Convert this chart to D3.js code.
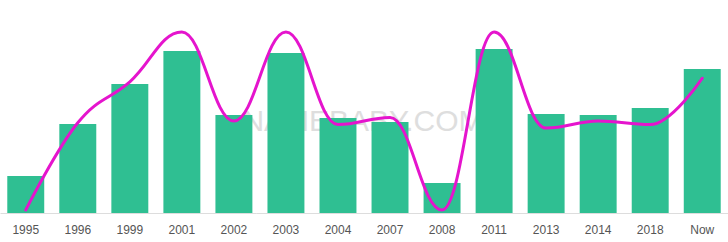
<!DOCTYPE html>
<html>
<head>
<meta charset="utf-8">
<script src="https://cdn.jsdelivr.net/npm/d3@7"></script>
<style>
  body { margin: 0; background: #fff; }
  svg { display: block; font-family: "Liberation Sans", Arial, sans-serif; }
</style>
</head>
<body>
<div id="chart"></div>
<script>
const width = 728;
const height = 242;
const margin = { top: 32, right: 0, bottom: 29, left: 0 };

// years shown on the x axis
const years = ["1995", "1996", "1999", "2001", "2002", "2003", "2004", "2007", "2008", "2011", "2013", "2014", "2018", "Now"];
// bar heights (counts)
const counts = [37, 89, 129, 162, 98, 160, 95, 91, 30, 164, 99, 98, 105, 144];
// smoothed trend line, 0-100 on its own scale
const trend = [0, 49, 72, 100, 50, 100, 48, 52, 0, 100, 46, 50, 48, 74];

const colors = {
  bar: "#2fbf92",
  line: "#e514cd",
  axis: "#dddddd",
  label: "#555555",
  watermark: "#dedede"
};

// spline like the one the original chart tool draws: smoothed, no overshoot at peaks
function SplineCurve(context) {
  this._context = context;
}
SplineCurve.prototype = {
  areaStart() {},
  areaEnd() {},
  lineStart() { this._pts = []; },
  point(px, py) { this._pts.push([px, py]); },
  lineEnd() {
    const pts = this._pts;
    const ctx = this._context;
    const s = 1.5, den = s + 1;
    const ctrl = pts.map((p, i) => {
      if (i === 0 || i === pts.length - 1) return null;
      const [lx, ly] = pts[i - 1], [nx, ny] = pts[i + 1], [px, py] = p;
      let lcx = (s * px + lx) / den, lcy = (s * py + ly) / den;
      let rcx = (s * px + nx) / den, rcy = (s * py + ny) / den;
      const corr = ((rcy - lcy) * (rcx - px)) / (rcx - lcx) + py - rcy;
      lcy += corr; rcy += corr;
      if (lcy > ly && lcy > py) { lcy = Math.max(ly, py); rcy = 2 * py - lcy; }
      else if (lcy < ly && lcy < py) { lcy = Math.min(ly, py); rcy = 2 * py - lcy; }
      if (rcy > ny && rcy > py) { rcy = Math.max(ny, py); lcy = 2 * py - rcy; }
      else if (rcy < ny && rcy < py) { rcy = Math.min(ny, py); lcy = 2 * py - rcy; }
      return { lcx, lcy, rcx, rcy };
    });
    pts.forEach((p, i) => {
      if (i === 0) { ctx.moveTo(p[0], p[1]); return; }
      const prev = pts[i - 1], pc = ctrl[i - 1], c = ctrl[i];
      ctx.bezierCurveTo(
        pc ? pc.rcx : prev[0], pc ? pc.rcy : prev[1],
        c ? c.lcx : p[0], c ? c.lcy : p[1],
        p[0], p[1]
      );
    });
  }
};

const svg = d3.select("#chart")
  .append("svg")
  .attr("width", width)
  .attr("height", height);

const baseY = height - margin.bottom;

const x = d3.scaleBand()
  .domain(years)
  .range([margin.left, width - margin.right])
  .paddingInner(0.29)
  .paddingOuter(0.14);

const y = d3.scaleLinear()
  .domain([0, 180])
  .range([baseY, baseY - 180]);

const yTrend = d3.scaleLinear()
  .domain([0, 100])
  .range([baseY - 3, margin.top]);

svg.append("text")
  .attr("x", 363)
  .attr("y", 131)
  .attr("text-anchor", "middle")
  .attr("font-size", 30)
  .attr("fill", colors.watermark)
  .text("NAMEBABY.COM");

svg.selectAll(".bar")
  .data(years)
  .join("rect")
  .attr("class", "bar")
  .attr("x", d => x(d))
  .attr("width", x.bandwidth())
  .attr("y", (d, i) => y(counts[i]))
  .attr("height", (d, i) => baseY - y(counts[i]))
  .attr("fill", colors.bar);

const xAxis = svg.append("g")
  .attr("transform", `translate(0, ${baseY})`)
  .call(d3.axisBottom(x).tickSize(0).tickPadding(12));

xAxis.select(".domain").attr("stroke", colors.axis);
xAxis.selectAll("text")
  .attr("font-size", 12)
  .attr("font-family", "\"Liberation Sans\", Arial, sans-serif")
  .attr("fill", colors.label);

const line = d3.line()
  .x((d, i) => x(years[i]) + x.bandwidth() / 2)
  .y(d => yTrend(d))
  .curve(context => new SplineCurve(context));

svg.append("path")
  .datum(trend)
  .attr("fill", "none")
  .attr("stroke", colors.line)
  .attr("stroke-width", 3)
  .attr("stroke-linecap", "round")
  .attr("d", line);
</script>
</body>
</html>
